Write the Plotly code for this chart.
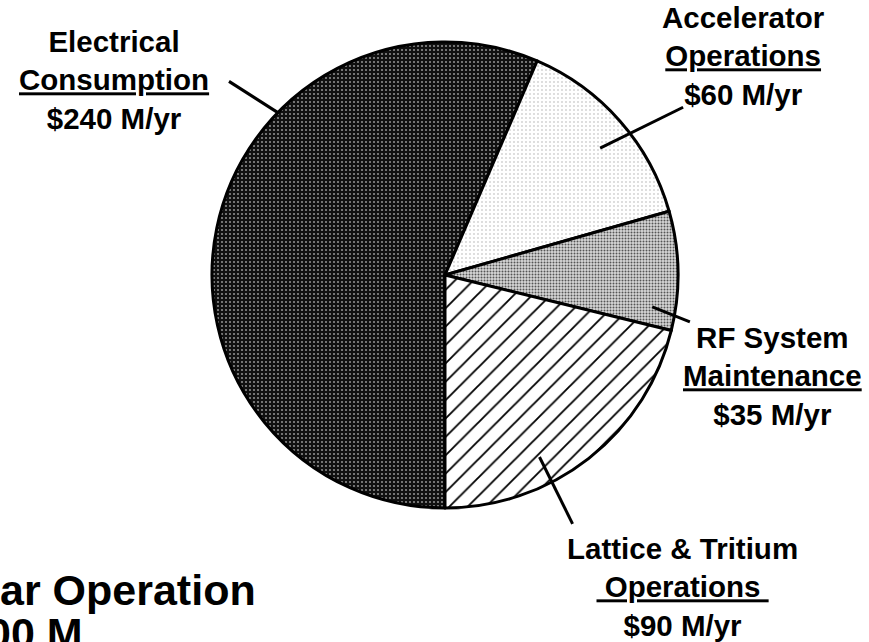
import math
import plotly.graph_objects as go

# data (clockwise from 6 o'clock)
labels = ['Electrical Consumption', 'Accelerator Operations',
          'RF System Maintenance', 'Lattice & Tritium Operations']
costs = [240, 60, 35, 90]  # $M/yr
label_text = [
    'Electrical<br><u>Consumption</u><br>$240 M/yr',
    'Accelerator<br><u>Operations</u><br>$60 M/yr',
    'RF System<br><u>Maintenance</u><br>$35 M/yr',
    'Lattice & Tritium<br><u>\u00a0Operations\u00a0</u><br>$90 M/yr',
]

W, H = 869, 642
CX, CY, R = 445, 275, 233  # pie centre / radius in pixels

# label block centres (pixels)
label_pos = [(114, 80), (743, 56), (772, 376), (682, 587)]
# leader lines: (fraction along slice, inner radius frac, outer angle shift deg, outer radius frac)
leaders = [(0.66, 1.00, 2.3, 1.245), (0.54, 0.86, -4.1, 1.25),
           (0.83, 0.90, -2.1, 1.07), (0.64, 0.88, -0.3, 1.20)]


def to_paper(px, py):
    return px / W, 1 - py / H


fig = go.Figure()
fig.add_trace(go.Pie(
    labels=labels, values=costs,
    sort=False, direction='clockwise', rotation=180,
    textinfo='none', showlegend=False, hoverinfo='label+value',
    domain=dict(x=[(CX - R) / W, (CX + R) / W],
                y=[1 - (CY + R) / H, 1 - (CY - R) / H]),
    marker=dict(
        colors=['#101010', 'white', '#d8d8d8', 'white'],
        line=dict(color='black', width=3),
        pattern=dict(
            shape=['.', '.', '.', '/'],
            fgcolor=['#8c8c8c', '#a0a0a0', '#555555', 'black'],
            bgcolor=['#101010', 'white', '#d8d8d8', 'white'],
            size=[4, 4, 3, 13],
            solidity=[0.22, 0.08, 0.35, 0.14],
            fillmode='replace',
        ),
    ),
))

total = sum(costs)
start = 270.0  # math angle of 6 o'clock, slices run clockwise
shapes = []
annotations = []
for i, v in enumerate(costs):
    span = 360.0 * v / total
    frac, rin, dang, rout = leaders[i]
    a1 = math.radians(start - frac * span)
    a2 = math.radians(start - frac * span + dang)
    x0, y0 = to_paper(CX + R * rin * math.cos(a1), CY - R * rin * math.sin(a1))
    x1, y1 = to_paper(CX + R * rout * math.cos(a2), CY - R * rout * math.sin(a2))
    shapes.append(dict(type='line', xref='paper', yref='paper',
                       x0=x0, y0=y0, x1=x1, y1=y1,
                       line=dict(color='black', width=3)))
    lx, ly = to_paper(*label_pos[i])
    annotations.append(dict(text='<b>' + label_text[i] + '</b>', x=lx, y=ly,
                            xref='paper', yref='paper', showarrow=False,
                            xanchor='center', yanchor='middle', align='center',
                            font=dict(family='Liberation Sans', size=29.5, color='black')))
    start -= span

# cut-off title in the lower left corner
for txt, px, py in [('ar Operation', -2, 590), ('00 M', -15, 633)]:
    ax, ay = to_paper(px, py)
    annotations.append(dict(text='<b>' + txt + '</b>', x=ax, y=ay,
                            xref='paper', yref='paper', showarrow=False,
                            xanchor='left', yanchor='middle',
                            font=dict(family='Liberation Sans', size=43, color='black')))

fig.update_layout(
    width=W, height=H,
    margin=dict(l=0, r=0, t=0, b=0),
    paper_bgcolor='white', plot_bgcolor='white',
    shapes=shapes, annotations=annotations,
)

fig.write_html('out.html', config={'displayModeBar': False},
               post_script="document.body.style.margin='0px';")
